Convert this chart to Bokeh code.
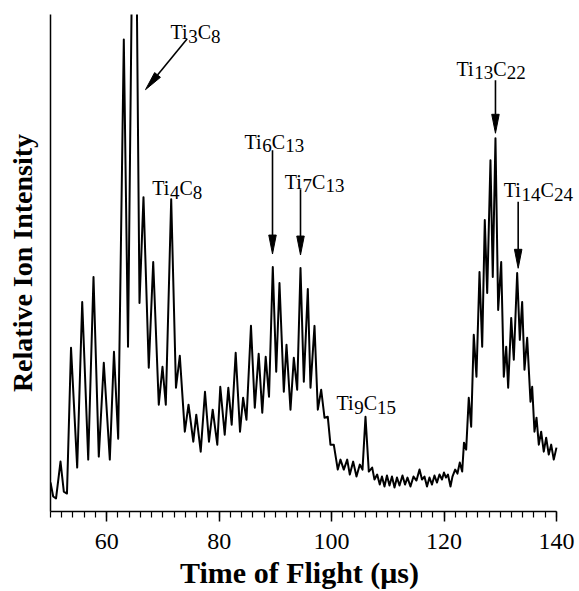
import math
from bokeh.plotting import figure
from bokeh.models import Range1d, SingleIntervalTicker, FixedTicker, Label
from bokeh.embed import file_html
from bokeh.resources import INLINE

# ---- spectrum (time of flight in microseconds, relative intensity) ----
time_us = [
    50.00, 50.48, 50.98, 51.78, 52.37, 52.93, 53.65, 54.75, 55.64, 56.71,
    57.65, 58.59, 59.48, 60.55, 61.29, 62.04, 63.04, 63.79, 64.94, 65.83,
    66.54, 67.48, 68.27, 69.26, 69.92, 70.51, 71.47, 72.32, 73.00, 73.89,
    74.55, 75.40, 75.93, 76.72, 77.48, 78.19, 78.85, 79.67, 80.20, 80.99,
    81.63, 82.23, 82.94, 83.71, 84.26, 84.86, 85.66, 86.34, 87.03, 87.67,
    88.28, 88.87, 89.54, 90.15, 90.73, 91.50, 91.98, 92.69, 93.28, 93.88,
    94.47, 95.06, 95.77, 96.25, 96.96, 97.55, 98.15, 98.74, 99.32, 99.80,
    100.39, 101.10, 101.58, 102.17, 102.78, 103.24, 103.84, 104.43, 105.02, 105.50,
    106.03, 106.62, 107.22, 107.63, 108.11, 108.57, 108.96, 109.41, 109.85, 110.30,
    110.74, 111.19, 111.63, 112.08, 112.61, 113.06, 113.50, 114.03, 114.57, 115.10,
    115.64, 116.08, 116.52, 116.97, 117.41, 117.86, 118.30, 118.75, 119.19, 119.64,
    119.99, 120.35, 120.70, 121.15, 121.50, 121.98, 122.39, 122.80, 123.23, 123.55,
    123.94, 124.40, 124.83, 125.29, 125.77, 126.31, 126.79, 127.25, 127.68, 128.26,
    128.67, 129.15, 129.63, 130.17, 130.63, 131.06, 131.41, 131.95, 132.41, 133.01,
    133.48, 133.90, 134.31, 134.79, 135.38, 135.68, 136.09, 136.45, 136.86, 137.28,
    137.74, 138.17, 138.63, 139.06, 139.52, 140.00,
]
intensity = [
    5.8, 3.0, 2.6, 10.0, 4.0, 3.6, 32.8, 8.8, 42.0, 10.4,
    47.0, 11.0, 29.8, 10.4, 32.0, 14.6, 94.6, 33.0, 156.6, 41.8,
    63.0, 28.8, 50.0, 21.4, 29.0, 21.4, 62.6, 24.8, 31.2, 16.0,
    21.4, 14.0, 19.4, 12.0, 24.0, 14.0, 20.4, 13.4, 25.0, 15.4,
    24.8, 17.4, 31.8, 16.0, 22.8, 18.4, 37.2, 20.8, 31.6, 19.8,
    31.0, 23.0, 49.0, 28.0, 45.8, 24.0, 33.4, 20.4, 30.8, 24.4,
    48.8, 26.0, 44.6, 24.8, 37.2, 20.4, 24.4, 18.8, 19.0, 13.4,
    13.4, 8.4, 10.4, 8.4, 10.4, 7.4, 10.0, 7.0, 9.4, 8.4,
    19.0, 8.0, 8.8, 6.4, 7.4, 5.4, 7.0, 5.0, 7.2, 5.2,
    7.0, 4.8, 6.8, 5.2, 7.2, 5.4, 6.8, 5.0, 7.0, 6.2,
    8.4, 6.4, 7.0, 5.0, 6.8, 5.4, 7.2, 5.8, 7.4, 6.4,
    7.8, 6.8, 7.4, 5.0, 7.0, 8.4, 7.6, 9.8, 8.0, 13.8,
    12.4, 22.8, 17.0, 35.4, 27.0, 48.0, 33.0, 58.4, 43.8, 70.4,
    47.0, 74.8, 40.4, 50.0, 27.0, 33.0, 24.8, 38.8, 30.4, 47.8,
    34.4, 42.0, 28.4, 34.8, 22.0, 25.0, 16.0, 18.8, 13.4, 16.0,
    12.0, 14.8, 11.4, 13.4, 10.4, 12.8,
]

# ---- peak assignments ----
ion_ti = ["3", "4", "6", "7", "9", "13", "14"]
ion_c = ["8", "8", "13", "13", "15", "22", "24"]
label_time = [71.34, 68.09, 84.51, 91.68, 100.87, 122.22, 130.63]
label_int = [96.06, 64.74, 74.06, 66.06, 21.74, 88.74, 64.40]

arrow_time_start = [74.32, 89.49, 94.47, 129.15, 133.19]
arrow_int_start = [94.74, 72.40, 64.60, 86.40, 62.06]
arrow_time_end = [66.90, 89.49, 94.47, 129.15, 133.19]
arrow_int_end = [84.54, 51.60, 51.40, 75.80, 48.74]

x_axis_bounds = (50, 140)
x_ticks_interval = 20

FONT = "Liberation Serif"

p = figure(width=579, height=591,
           x_range=Range1d(50, 143.92), y_range=Range1d(0, 99.6),
           output_backend="svg", toolbar_location=None,
           min_border_left=50, min_border_right=1,
           min_border_top=14, min_border_bottom=79)
p.outline_line_color = None
p.xgrid.visible = False
p.ygrid.visible = False
p.background_fill_color = "white"
p.border_fill_color = "white"

p.line(time_us, intensity, line_color="black", line_width=2.0, line_join="round")

# x axis (label padded with no-break spaces so it centres under the 50-140 axis)
xa = p.xaxis[0]
xa.bounds = x_axis_bounds
xa.ticker = SingleIntervalTicker(interval=x_ticks_interval, num_minor_ticks=10)
xa.axis_label = "Time of Flight (\u03bcs)" + "\u00a0" * 4
xa.axis_label_text_font = FONT
xa.axis_label_text_font_style = "bold"
xa.axis_label_text_font_size = "30px"
xa.axis_label_text_color = "black"
xa.axis_label_standoff = 4
xa.major_label_text_font = FONT
xa.major_label_text_font_size = "24px"
xa.major_label_text_color = "black"
xa.major_label_standoff = 12
xa.major_tick_out = 10
xa.major_tick_in = 0
xa.minor_tick_out = 6
xa.minor_tick_in = 0
xa.axis_line_width = 1.5
xa.major_tick_line_width = 1.5
xa.minor_tick_line_width = 1.2
xa.axis_line_color = "black"
xa.major_tick_line_color = "black"
xa.minor_tick_line_color = "black"

# y axis
ya = p.yaxis[0]
ya.ticker = FixedTicker(ticks=[])
ya.axis_label = "Relative Ion Intensity"
ya.axis_label_text_font = FONT
ya.axis_label_text_font_style = "bold"
ya.axis_label_text_font_size = "28px"
ya.axis_label_text_color = "black"
ya.axis_label_standoff = 13
ya.axis_line_width = 1.5
ya.axis_line_color = "black"
ya.major_tick_line_color = None
ya.minor_tick_line_color = None

# arrows: shaft + narrow filled head (head size in screen pixels)
PX_T = 506 / 90.0
PX_I = 498 / 99.6
HEAD_LEN = 19.0
HEAD_W = 7.5
shaft_x0, shaft_y0, shaft_x1, shaft_y1 = [], [], [], []
head_xs, head_ys = [], []
for ts, is_, te, ie in zip(arrow_time_start, arrow_int_start, arrow_time_end, arrow_int_end):
    dx = (te - ts) * PX_T
    dy = (ie - is_) * PX_I
    L = math.hypot(dx, dy)
    ux, uy = dx / L, dy / L
    bx = te - HEAD_LEN * ux / PX_T
    by = ie - HEAD_LEN * uy / PX_I
    px_, py_ = -uy, ux
    shaft_x0.append(ts); shaft_y0.append(is_)
    shaft_x1.append(bx); shaft_y1.append(by)
    head_xs.append([te, bx + HEAD_W / 2 * px_ / PX_T, bx - HEAD_W / 2 * px_ / PX_T])
    head_ys.append([ie, by + HEAD_W / 2 * py_ / PX_I, by - HEAD_W / 2 * py_ / PX_I])
p.segment(shaft_x0, shaft_y0, shaft_x1, shaft_y1, line_color="black", line_width=1.6)
p.patches(head_xs, head_ys, fill_color="black", line_color="black", line_width=1)

# labels: Ti{n}C{m} built from pieces
MAIN = 20
SUB = 19
W_TI = 0.889 * MAIN
W_C = 0.667 * MAIN
W_DIG = 0.5 * SUB
SUB_DROP = 4
for nti, nc, lt, li in zip(ion_ti, ion_c, label_time, label_int):
    pieces = [
        ("Ti", 0.0, 0, MAIN),
        (nti, W_TI, -SUB_DROP, SUB),
        ("C", W_TI + W_DIG * len(nti), 0, MAIN),
        (nc, W_TI + W_DIG * len(nti) + W_C, -SUB_DROP, SUB),
    ]
    for txt, xo, yo, fs in pieces:
        p.add_layout(Label(x=lt, y=li, text=txt, x_offset=xo, y_offset=yo,
                           text_font=FONT, text_font_size=f"{fs}px",
                           text_color="black", text_align="left",
                           text_baseline="alphabetic"))

open("out.html", "w").write(file_html(p, INLINE))
